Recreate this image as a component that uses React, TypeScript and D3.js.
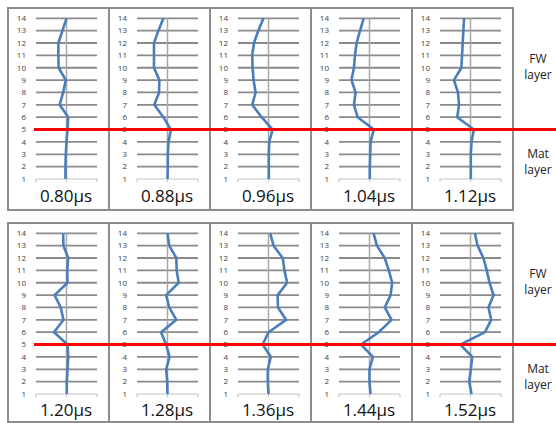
import React from 'react';
import * as d3 from 'd3';

// levels 1..14 (bottom to top), offsets
const levels = [1, 2, 3, 4, 5, 6, 7, 8, 9, 10, 11, 12, 13, 14];
const timeLabels = ['0.80μs', '0.88μs', '0.96μs', '1.04μs', '1.12μs', '1.20μs', '1.28μs', '1.36μs', '1.44μs', '1.52μs'];

const p080 = [-0.1, -0.1, -0.07, 0, 0.1, 0.17, -0.67, -0.33, -0.07, -0.77, -0.8, -0.8, -0.4, 0];
const p088 = [0, 0.03, 0.03, 0.1, 0.33, -0.4, -1.3, -0.83, -0.8, -1.33, -1.33, -1.33, -0.9, -0.4];
const p096 = [0.03, 0.03, 0.03, 0.07, 0.4, -0.67, -1.6, -1.27, -1.47, -1.57, -1.6, -1.43, -1.0, -0.5];
const p104 = [0.03, 0.03, 0.07, 0.1, 0.43, -1.17, -1.53, -1.37, -1.77, -1.53, -1.43, -1.27, -0.93, -0.57];
const p112 = [0.03, 0.03, 0.03, 0.1, 0.33, -1.3, -1.13, -1.23, -1.63, -0.9, -0.83, -0.77, -0.7, -0.63];
const p120 = [0.03, 0.03, 0.1, 0.17, 0.1, -1.23, -0.3, -0.57, -1.17, 0.1, 0.07, 0.17, -0.3, -0.33];
const p128 = [0, -0.03, -0.13, 0.2, -0.13, -0.63, 0.87, 0.17, -0.13, 1.1, 0.9, 0.87, 0.17, 0];
const p136 = [0, -0.07, -0.07, 0.23, -0.57, 0, 1.73, 0.93, 0.9, 1.83, 1.57, 1.4, 0.5, 0.17];
const p144 = [0.1, 0, 0, 0.33, -0.83, 0.9, 2.17, 1.5, 2.07, 2.23, 1.9, 1.5, 0.73, 0.4];
const p152 = [0.1, -0.13, 0.03, 0.17, -1.0, 1.43, 2.03, 1.77, 2.27, 1.87, 1.6, 1.27, 0.7, 0.43];

const profiles = [p080, p088, p096, p104, p112, p120, p128, p136, p144, p152];
const boundaryLevel = 5;
const sideLabels = [['FW', 'layer'], ['Mat', 'layer']];

const W = 556;
const H = 423;
const panelW = 101;
const panelX0 = 8;
const rowTops = [8, 223];
const rowBottoms = [210, 422];
const font = '"Open Sans", "Liberation Sans", sans-serif';

const Panel: React.FC<{ idx: number }> = ({ idx }) => {
  const row = Math.floor(idx / 5);
  const col = idx % 5;
  const left = panelX0 + col * panelW;
  const top = rowTops[row];
  const bottom = rowBottoms[row];
  const x = d3.scaleLinear().domain([-3, 3]).range([left + 28, left + 89]);
  const y = d3.scaleLinear().domain([1, 14]).range([top + 171, top + 10.3]);
  const vals = profiles[idx];
  const line = d3
    .line<number>()
    .x(d => x(d))
    .y((_, i) => y(levels[i]));

  return (
    <g>
      <rect x={left} y={top} width={panelW} height={bottom - top} fill="#fff" stroke="#8c8c8c" strokeWidth={2} />
      {levels.slice(1).map(l => (
        <line key={l} x1={x(-3)} x2={x(3)} y1={y(l)} y2={y(l)} stroke="#8a8a8a" strokeWidth={1.8} />
      ))}
      {/* bottom axis */}
      <line x1={x(-3)} x2={x(3)} y1={y(1)} y2={y(1)} stroke="#c4c4c4" strokeWidth={1.2} />
      {[-3, 0, 3].map(t => (
        <line key={t} x1={x(t)} x2={x(t)} y1={y(1)} y2={y(1) + 3} stroke="#c4c4c4" strokeWidth={1.2} />
      ))}
      <line x1={x(0)} x2={x(0)} y1={y(1)} y2={y(14)} stroke="#a6a6a6" strokeWidth={1.5} />
      {levels.map(l => (
        <text key={l} x={left + 18} y={y(l)} dy="0.35em" textAnchor="end" fontSize={8} fontFamily={font} fill="#404040">
          {l}
        </text>
      ))}
      <path d={line(vals) || ''} fill="none" stroke="#4a7ebb" strokeWidth={2.6} strokeLinejoin="round" />
      <text x={left + 58} y={row === 0 ? 202 : 416} textAnchor="middle" fontSize={17} fontFamily={font} fill="#111">
        {timeLabels[idx]}
      </text>
    </g>
  );
};

export default function App() {
  const redYs = rowTops.map(t => d3.scaleLinear().domain([1, 14]).range([t + 171, t + 10.3])(boundaryLevel));
  return (
    <div style={{ position: 'absolute', left: 0, top: 0 }}>
      <svg width={W} height={H} style={{ display: 'block', background: '#fff' }}>
        {profiles.map((_, i) => (
          <Panel key={i} idx={i} />
        ))}
        {redYs.map((ry, r) => (
          <g key={r}>
            <line x1={34} x2={W} y1={ry} y2={ry} stroke="#ff0000" strokeWidth={3} />
            {sideLabels.map((lab, k) => {
              const cy = k === 0 ? ry - 67 : ry + 28;
              return (
                <text key={k} x={538} y={cy} textAnchor="middle" fontSize={12} fontFamily={font} fill="#222">
                  <tspan x={538} dy={0}>{lab[0]}</tspan>
                  <tspan x={538} dy={16}>{lab[1]}</tspan>
                </text>
              );
            })}
          </g>
        ))}
      </svg>
    </div>
  );
}
